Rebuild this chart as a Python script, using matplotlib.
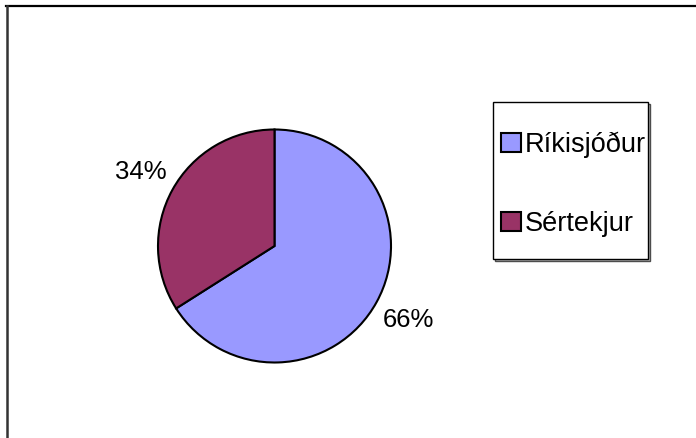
import matplotlib
matplotlib.use("Agg")
import matplotlib.pyplot as plt
from matplotlib.patches import Rectangle, Shadow
from matplotlib.lines import Line2D

plt.rcParams['font.family'] = ['Liberation Sans', 'DejaVu Sans']

# Skipting fjármögnunar
flokkar = ["Ríkisjóður", "Sértekjur"]
hlutfall = [66, 34]
litir = ["#9999FF", "#993366"]

W, H = 696, 438
fig = plt.figure(figsize=(W / 100, H / 100), dpi=100)

def px(x, y):
    # pixlar (frá efra vinstra horni) -> hlutfall af mynd
    return x / W, 1 - y / H

# ásinn fyrir kökuna
r_px = 116.5
cx, cy = 274.5, 246
pad = 1.1
left, top = px(cx - r_px * pad, cy - r_px * pad)
ax = fig.add_axes([left, top - 2 * r_px * pad / H, 2 * r_px * pad / W, 2 * r_px * pad / H])
wedges, _, pct = ax.pie(hlutfall, colors=litir, startangle=90, counterclock=False,
                        autopct='%1.0f%%', pctdistance=1.31,
                        wedgeprops=dict(edgecolor='black', linewidth=1.5),
                        textprops=dict(fontsize=18.5, color='black'))
ax.set_xlim(-pad, pad)
ax.set_ylim(-pad, pad)
ax.axis('off')

# rammi um myndina (aðeins efri og vinstri brún)
fig.add_artist(Line2D([6 / W, 1], [1 - 5.5 / H, 1 - 5.5 / H], color='black', lw=1.6,
                      transform=fig.transFigure))
fig.add_artist(Line2D([7 / W, 7 / W], [0, 1 - 5.5 / H], color='#333333', lw=1.8,
                      transform=fig.transFigure))

# kassi fyrir skýringar
x0, y0 = px(493, 259)
box = Rectangle((x0, y0), 155 / W, 157 / H, transform=fig.transFigure,
                facecolor='white', edgecolor='black', lw=1.0, zorder=2)
fig.add_artist(Shadow(box, 1.5 / W, -1.5 / H, facecolor='#b0b0b0', alpha=1.0, zorder=1))
fig.add_artist(box)

leg = fig.legend(wedges, flokkar, frameon=False, loc='center left',
                 bbox_to_anchor=px(501, 184), bbox_transform=fig.transFigure,
                 borderpad=0, borderaxespad=0, handlelength=0.74, handleheight=0.70,
                 handletextpad=0.15, labelspacing=1.95, fontsize=19.5)
leg.set_zorder(3)

fig.savefig("out.png", dpi=100)
